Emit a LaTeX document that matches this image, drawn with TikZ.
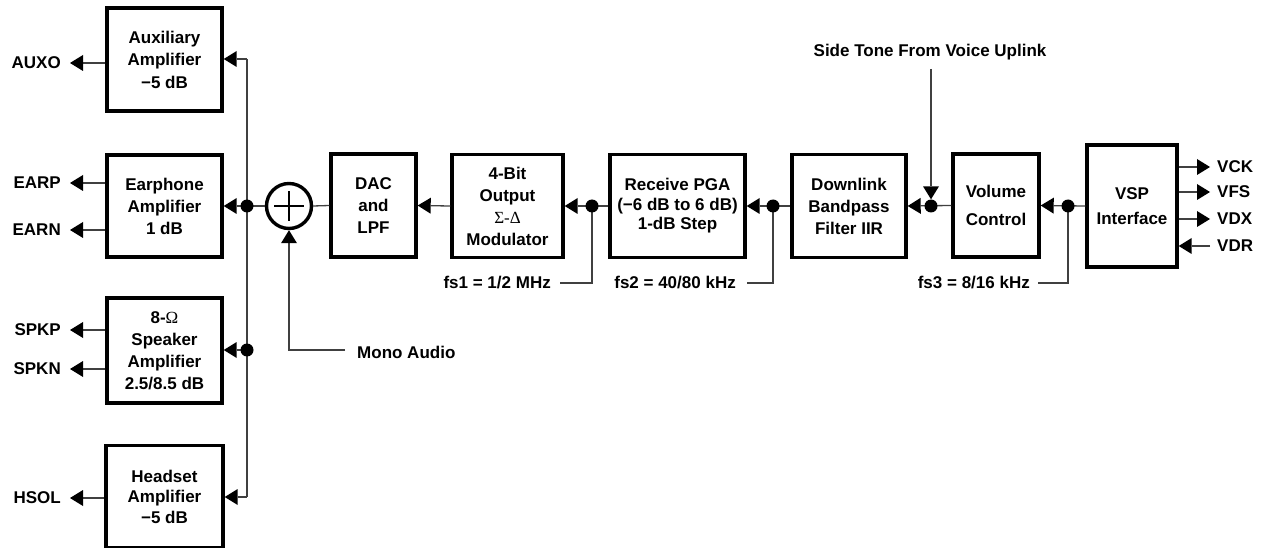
\documentclass[tikz,border=0pt]{standalone}
\usepackage{fontspec}
\setmainfont{Liberation Sans}
\newfontfamily\serifgreek{Liberation Serif}
\usetikzlibrary{arrows.meta}
\begin{document}
\begin{tikzpicture}[x=1pt,y=-1pt,
  font=\bfseries\fontsize{17}{22}\selectfont,
  blk/.style={draw,line width=3.4pt,align=center,inner sep=0pt},
  wire/.style={line width=1.3pt,draw=black!75},
  arr/.style={wire,-{Triangle[length=13pt,width=16pt,fill=black,line width=0pt]}},
  jdot/.style={circle,fill=black,inner sep=0pt,minimum size=13pt},
  lbl/.style={inner sep=0pt}]
\useasboundingbox (0,0) rectangle (1270,548);
% junction points
\coordinate (c0) at (247,206);
\coordinate (c1) at (247,350);
\coordinate (c2) at (592,206);
\coordinate (c3) at (773,206);
\coordinate (c4) at (931,206);
\coordinate (c5) at (1068,206);
% left amplifiers
\node[blk,minimum width=115pt,minimum height=103pt] (aux) at (164.5,59.5) {Auxiliary\\Amplifier\\[1pt]−5 dB};
\node[blk,minimum width=115pt,minimum height=102pt] (ear) at (164.5,206) {Earphone\\Amplifier\\1 dB};
\node[blk,minimum width=115pt,minimum height=105pt] (spk) at (164.5,350.5) {8-{\serifgreek\mdseries Ω}\\Speaker\\Amplifier\\2.5/8.5 dB};
\node[blk,minimum width=117pt,minimum height=102pt] (hs) at (164.5,496.5) {Headset\\[-1.5pt]Amplifier\\[-1.5pt]−5 dB};
% outputs left
\node[lbl,anchor=east] (auxo) at (61,63) {AUXO};
\node[lbl,anchor=east] (earp) at (61,183) {EARP};
\node[lbl,anchor=east] (earn) at (61,230) {EARN};
\node[lbl,anchor=east] (spkp) at (61,330) {SPKP};
\node[lbl,anchor=east] (spkn) at (61,369) {SPKN};
\node[lbl,anchor=east] (hsol) at (61,498) {HSOL};
\coordinate (auxoT) at (70,63);
\coordinate (earpT) at (70,183);
\coordinate (earnT) at (70,230);
\coordinate (spkpT) at (70,330);
\coordinate (spknT) at (70,369);
\coordinate (hsolT) at (70,498);
\draw[arr] (aux.west |- auxoT) -- (auxoT);
\draw[arr] (ear.west |- earpT) -- (earpT);
\draw[arr] (ear.west |- earnT) -- (earnT);
\draw[arr] (spk.west |- spkpT) -- (spkpT);
\draw[arr] (spk.west |- spknT) -- (spknT);
\draw[arr] (hs.west |- hsolT) -- (hsolT);
% summing junction
\node[circle,draw,line width=3.4pt,minimum size=45pt,inner sep=0pt] (sum) at (289,206) {};
\draw[line width=1.2pt] ([yshift=-15pt]sum.center) -- ([yshift=15pt]sum.center);
\draw[line width=1.2pt] ([xshift=-15pt]sum.center) -- ([xshift=15pt]sum.center);
% bus
\coordinate (busT) at (247,59);
\coordinate (busB) at (247,497);
\draw[arr] (busT) -- (aux.east |- busT);
\draw[wire] (busT) -- (busB);
\draw[arr] (busB) -- (hs.east |- busB);
\draw[arr] (sum.west) -- (ear.east);
\draw[arr] (c1) -- (spk.east |- c1);
% main chain
\node[blk,minimum width=85pt,minimum height=103pt] (dac) at (373.5,205.5) {DAC\\and\\LPF};
\node[blk,minimum width=111pt,minimum height=103pt] (mod) at (507.5,206) {4-Bit\\Output\\{\serifgreek\mdseries Σ-Δ}\\Modulator};
\node[blk,minimum width=135pt,minimum height=103pt] (pga) at (677.5,206) {Receive PGA\\[-2.5pt](−6 dB to 6 dB)\\[-2.5pt]1-dB Step};
\node[blk,minimum width=114pt,minimum height=103pt] (dl) at (849,206) {Downlink\\Bandpass\\Filter IIR};
\node[blk,minimum width=86pt,minimum height=103pt] (vol) at (996,205.5) {Volume\\[6pt]Control};
\node[blk,minimum width=90pt,minimum height=122pt] (vsp) at (1132,206) {VSP\\[3pt]Interface};
\draw[wire] (dac.west) -- (sum.east);
\draw[arr] (mod.west) -- (dac.east);
\draw[arr] (pga.west) -- (mod.east);
\draw[arr] (dl.west) -- (pga.east);
\draw[arr] (vol.west) -- (dl.east);
\draw[arr] (vsp.west) -- (vol.east);
% mono audio
\node[lbl,anchor=west] (mono) at (357,352) {Mono Audio};
\coordinate (monoE) at (345,350);
\draw[arr] (monoE) -- (289,350) -- (sum.south);
% fs labels
\node[lbl,anchor=east] (fs1) at (551,283) {fs1 = 1/2 MHz};
\node[lbl,anchor=east] (fs2) at (736,283) {fs2 = 40/80 kHz};
\node[lbl,anchor=east] (fs3) at (1030,283) {fs3 = 8/16 kHz};
\draw[wire] (c2) -- (c2 |- fs1) -- ([xshift=9pt]fs1.east);
\draw[wire] (c3) -- (c3 |- fs2) -- ([xshift=11pt]fs2.east);
\draw[wire] (c5) -- (c5 |- fs3) -- ([xshift=8pt]fs3.east);
% VSP pins
\node[lbl,anchor=west] (vck) at (1217,167) {VCK};
\node[lbl,anchor=west] (vfs) at (1217,192) {VFS};
\node[lbl,anchor=west] (vdx) at (1217,219) {VDX};
\node[lbl,anchor=west] (vdr) at (1217,246) {VDR};
\coordinate (vckT) at (1210,167);
\coordinate (vfsT) at (1210,192);
\coordinate (vdxT) at (1210,219);
\coordinate (vdrS) at (1210,246);
\draw[arr] (vsp.east |- vckT) -- (vckT);
\draw[arr] (vsp.east |- vfsT) -- (vfsT);
\draw[arr] (vsp.east |- vdxT) -- (vdxT);
\draw[arr] (vdrS) -- (vsp.east |- vdrS);
% junction dots on top
\node[jdot] (d0) at (c0) {};
\node[jdot] (d1) at (c1) {};
\node[jdot] (d2) at (c2) {};
\node[jdot] (d3) at (c3) {};
\node[jdot] (d4) at (c4) {};
\node[jdot] (d5) at (c5) {};
% side tone
\node[lbl] (side) at (930,52) {Side Tone From Voice Uplink};
\coordinate (sideT) at (931,69);
\draw[arr] (sideT) -- (d4.north);
\end{tikzpicture}
\end{document}
